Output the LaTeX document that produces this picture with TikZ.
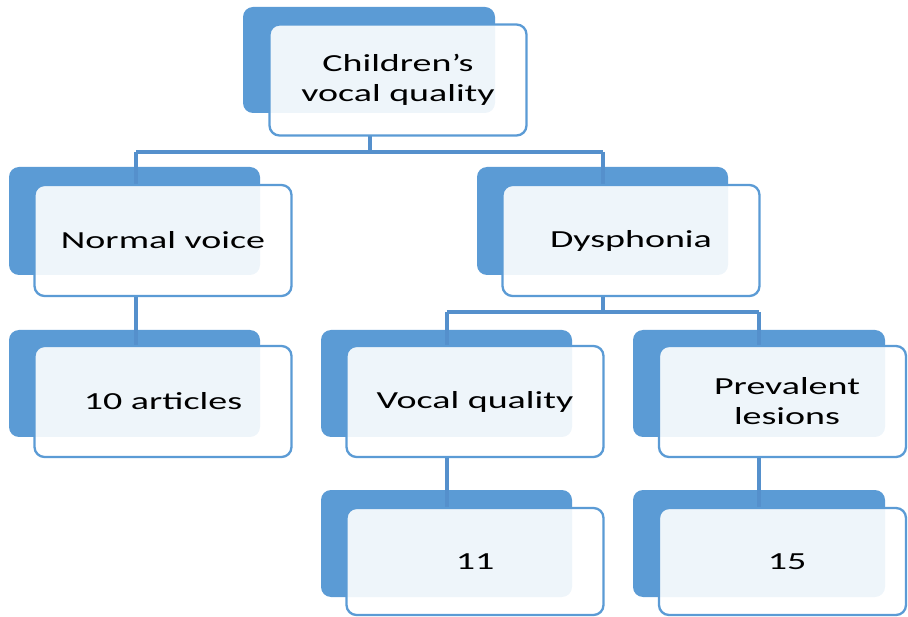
\documentclass[tikz,border=0pt]{standalone}
\usepackage{fontspec}
\setmainfont{Carlito}[FakeStretch=1.55]
\definecolor{backblue}{HTML}{5B9BD5}
\definecolor{lineblue}{HTML}{5590CC}
\tikzset{
  backbox/.style={fill=backblue, draw=none, rounded corners=10pt},
  frontbox/.style={draw=backblue, line width=2.3pt, fill=white, fill opacity=0.9, text opacity=1, rounded corners=10pt, align=center, font=\fontsize{24.5}{30}\selectfont, text=black},
  conn/.style={draw=lineblue, line width=3.5pt}
}
\begin{document}
\begin{tikzpicture}[x=1pt,y=-1pt]
\useasboundingbox (0,0) rectangle (908,617);
\clip (0,0) rectangle (908,617);
% connector junctions
\coordinate (h1l) at (136,152);
\coordinate (h1r) at (603,152);
\coordinate (h1m) at (370,152);
\coordinate (h2l) at (447,312);
\coordinate (h2r) at (759,312);
\coordinate (h2m) at (603,312);
% back boxes
\fill[backbox] (243,7) rectangle (495,113);
\fill[backbox] (9,167) rectangle (260,275);
\fill[backbox] (477,167) rectangle (728,275);
\fill[backbox] (9,330) rectangle (260,437);
\fill[backbox] (321,330) rectangle (572,437);
\fill[backbox] (633,330) rectangle (885,437);
\fill[backbox] (321,490) rectangle (572,597);
\fill[backbox] (633,490) rectangle (885,597);
% connector lines
\draw[conn] (h1l) -- (h1r);
\draw[conn] (h2l) -- (h2r);
\draw[conn] (h1m) -- (370,135);
\draw[conn] (h1l) -- (136,185);
\draw[conn] (h1r) -- (603,185);
\draw[conn] (h2m) -- (603,296);
\draw[conn] (h2l) -- (447,346);
\draw[conn] (h2r) -- (759,346);
\draw[conn] (136,296) -- (136,346);
\draw[conn] (447,457) -- (447,508);
\draw[conn] (759,457) -- (759,508);
% front boxes
\node[frontbox, minimum width=257pt, minimum height=111pt] (root) at (398,80) {Children’s\\vocal quality};
\node[frontbox, minimum width=257pt, minimum height=111pt] (normal) at (163,240.5) {Normal voice};
\node[frontbox, minimum width=257pt, minimum height=111pt] (dys) at (631,240.5) {Dysphonia};
\node[frontbox, minimum width=257pt, minimum height=111pt] (art) at (163,401.5) {10 articles};
\node[frontbox, minimum width=257pt, minimum height=111pt] (vq) at (475,401.5) {Vocal quality};
\node[frontbox, minimum width=247pt, minimum height=111pt] (prev) at (782.5,401.5) {\hspace*{9pt}Prevalent\\\hspace*{9pt}lesions};
\node[frontbox, minimum width=257pt, minimum height=107pt] (eleven) at (475,561.5) {11};
\node[frontbox, minimum width=247pt, minimum height=107pt] (fifteen) at (782.5,561.5) {\hspace*{9pt}15};
\end{tikzpicture}
\end{document}
